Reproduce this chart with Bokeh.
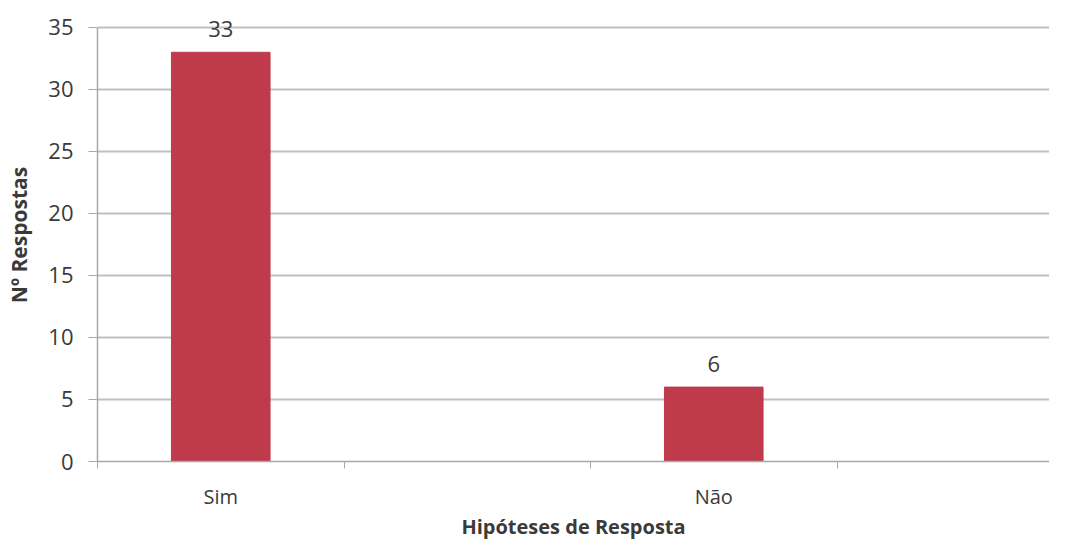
from bokeh.plotting import figure
from bokeh.models import ColumnDataSource, FixedTicker, Range1d, LabelSet
from bokeh.core.properties import value
from bokeh.embed import file_html
from bokeh.resources import INLINE

categories = ["Sim", "Não"]
respostas = [33, 6]
slots = [0, 2]          # category slot index of each bar (slots 0..3 on the axis)
slot_boundaries = [0, 1, 2, 3]
n_slots_visible = 3.862
y_ticks = [0, 5, 10, 15, 20, 25, 30, 35]
y_axis_max = 35
y_view_max = 36.53     # headroom so the "33" label is not clipped

xs = [s + 0.5 for s in slots]
src = ColumnDataSource(dict(x=xs, top=respostas, label=[str(v) for v in respostas], cat=categories))

FONT = "Open Sans"
TXT = "#3a3a3a"
GRAY = "#a9a9a9"
p = figure(width=1049, height=542, output_backend="svg", toolbar_location=None,
           x_range=Range1d(0, n_slots_visible), y_range=Range1d(0, y_view_max),
           min_border_left=97, min_border_right=0, min_border_top=8, min_border_bottom=75)
p.outline_line_color = None
p.background_fill_color = "white"
p.border_fill_color = "white"

p.vbar(x="x", top="top", width=0.4, bottom=0, source=src, fill_color="#bf3a4a", line_color="#bf3a4a")
labels = LabelSet(x="x", y="top", text="label", source=src, text_align="center", text_baseline="bottom",
                  y_offset=15, text_font=value(FONT), text_font_size="22px", text_color=TXT,
                  level="overlay")
p.add_layout(labels)

# y axis
p.yaxis.ticker = FixedTicker(ticks=y_ticks)
p.yaxis.bounds = (0, y_axis_max)
p.yaxis.axis_line_color = GRAY
p.yaxis.axis_line_width = 1.5
p.yaxis.major_tick_line_color = GRAY
p.yaxis.major_tick_out = 9
p.yaxis.major_tick_in = 0
p.yaxis.minor_tick_line_color = None
p.yaxis.major_label_text_font = FONT
p.yaxis.major_label_text_font_size = "22px"
p.yaxis.major_label_text_color = TXT
p.yaxis.major_label_standoff = 15
p.yaxis.axis_label = "Nº Respostas"
p.yaxis.axis_label_text_font = FONT
p.yaxis.axis_label_text_font_size = "21px"
p.yaxis.axis_label_text_font_style = "bold"
p.yaxis.axis_label_text_color = TXT
p.yaxis.axis_label_standoff = 12

# x axis
p.xaxis.ticker = FixedTicker(ticks=xs, minor_ticks=slot_boundaries)
p.xaxis.major_label_overrides = {x: c for x, c in zip(xs, categories)}
p.xaxis.axis_line_color = GRAY
p.xaxis.axis_line_width = 1.5
p.xaxis.major_tick_line_color = None
p.xaxis.major_tick_out = 0
p.xaxis.major_tick_in = 0
p.xaxis.minor_tick_line_color = GRAY
p.xaxis.minor_tick_out = 7
p.xaxis.minor_tick_in = 0
p.xaxis.major_label_text_font = FONT
p.xaxis.major_label_text_font_size = "20px"
p.xaxis.major_label_text_color = TXT
p.xaxis.major_label_standoff = 14
p.xaxis.axis_label = "Hipóteses de Resposta"
p.xaxis.axis_label_text_font = FONT
p.xaxis.axis_label_text_font_size = "20px"
p.xaxis.axis_label_text_font_style = "bold"
p.xaxis.axis_label_text_color = TXT
p.xaxis.axis_label_standoff = 0

p.xgrid.grid_line_color = None
p.ygrid.ticker = FixedTicker(ticks=y_ticks)
p.ygrid.grid_line_color = "#c0c0c0"
p.ygrid.grid_line_width = 2

open("out.html", "w").write(file_html(p, INLINE))
